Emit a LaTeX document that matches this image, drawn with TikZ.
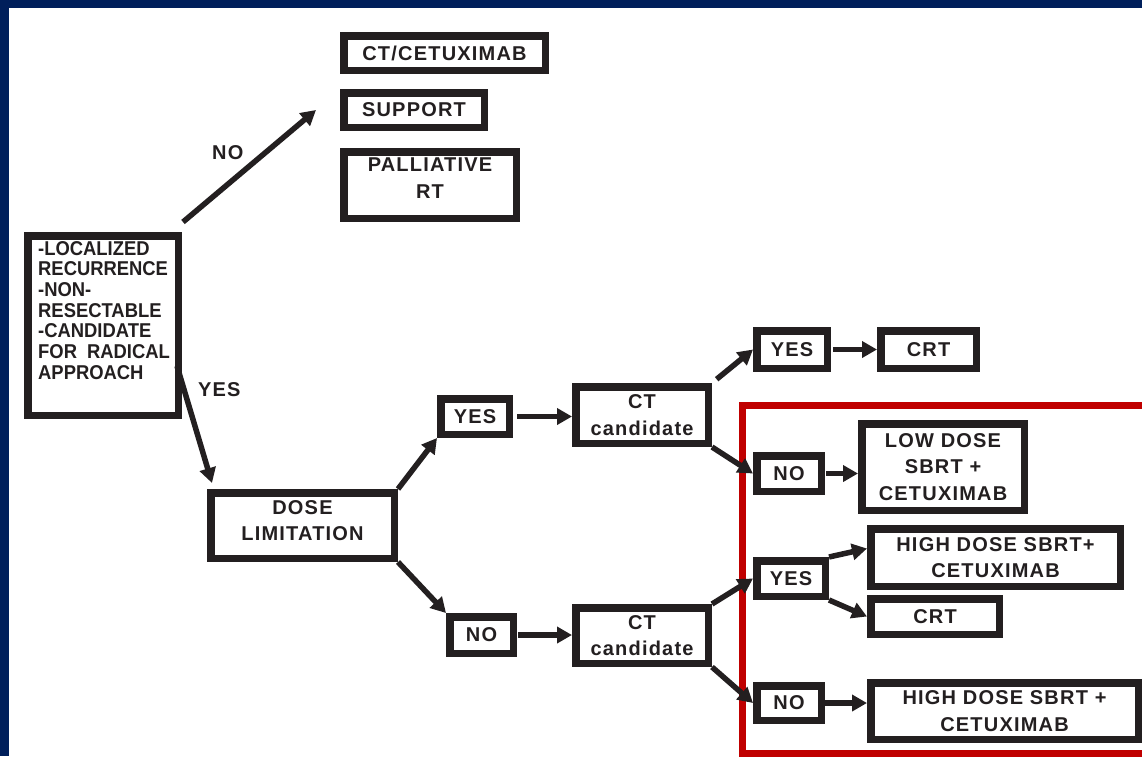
\documentclass[tikz,border=0pt]{standalone}
\usepackage{fontspec}
\setmainfont{Liberation Sans}
\newfontfamily\boxfont[LetterSpace=6]{Liberation Sans}
\newfontfamily\leftfont[FakeStretch=0.92]{Liberation Sans}
\usetikzlibrary{arrows.meta,calc}

\definecolor{navy}{RGB}{0,31,91}
\definecolor{darkred}{RGB}{192,0,0}
\definecolor{ink}{RGB}{35,31,32}

\tikzset{
  box/.style={draw=ink, line width=7.5pt, fill=white, inner sep=0pt, align=center,
    text=ink, font=\boxfont\bfseries\fontsize{20}{26.5}\selectfont},
  arr/.style={draw=ink, line width=5.5pt, -{Triangle[length=15pt,width=16pt]}},
  lbl/.style={text=ink, font=\boxfont\bfseries\fontsize{20}{24}\selectfont},
}

\begin{document}
\begin{tikzpicture}[x=1pt,y=-1pt]

% Background frame
\fill[navy] (0,0) rectangle (1142,756);
\fill[white] (9,8) rectangle (1142,756);
\useasboundingbox (0,0) rectangle (1142,756);

% Red frame round the right part
\draw[darkred, line width=7pt] (1146,405) -- (742,405) -- (742,753) -- (1146,753);

% Define coordinates for the free arrow ends
\coordinate (nofrom) at (183,222);
\coordinate (noto) at (316,110);
\coordinate (yesfrom) at (177,366);
\coordinate (yesto) at (212,483);

% Boxes for the first decision
\node[box, minimum width=201.5pt, minimum height=34.5pt] (ctcet) at (444.5,53) {CT/CETUXIMAB};
\node[box, minimum width=140.5pt, minimum height=34.5pt] (support) at (414,110) {SUPPORT};
\node[box, minimum width=172.5pt, minimum height=66.5pt, text depth=14pt] (palliative) at (430,185) {PALLIATIVE\\RT};
\node[box, minimum width=150.5pt, minimum height=179.5pt] (start) at (103,325.5) {};
\node[anchor=north west, inner sep=0pt, align=left, text=ink,
  font=\leftfont\bfseries\fontsize{20}{20.7}\selectfont] (starttxt) at ($(start.north west)+(14,9)$)
  {-LOCALIZED\\RECURRENCE\\-NON-\\RESECTABLE\\-CANDIDATE\\FOR\enspace RADICAL\\APPROACH};
\node[box, minimum width=183.5pt, minimum height=65.5pt, text depth=10pt] (dose) at (302.5,525.5) {DOSE\\LIMITATION};

% Second level
\node[box, minimum width=68.5pt, minimum height=35.5pt] (yes1) at (475,416.5) {YES};
\node[box, minimum width=132.5pt, minimum height=56.5pt] (cand1) at (642,415) {CT\\candidate};
\node[box, minimum width=63.5pt, minimum height=36.5pt] (no1) at (481.5,635) {NO};
\node[box, minimum width=132.5pt, minimum height=55.5pt] (cand2) at (642,635.5) {CT\\candidate};

% Third level
\node[box, minimum width=70.5pt, minimum height=37.5pt] (yes2) at (792,349.5) {YES};
\node[box, minimum width=95.5pt, minimum height=37.5pt] (crt1) at (928.5,349.5) {CRT};
\node[box, minimum width=64.5pt, minimum height=35.5pt] (no2) at (789,473.5) {NO};
\node[box, minimum width=162.5pt, minimum height=86.5pt] (lowdose) at (943,467) {LOW DOSE\\SBRT +\\CETUXIMAB};
\node[box, minimum width=68.5pt, minimum height=35.5pt] (yes3) at (791,578.5) {YES};
\node[box, minimum width=249.5pt, minimum height=57.5pt] (high1) at (995.5,557.5) {HIGH DOSE SBRT+\\CETUXIMAB};
\node[box, minimum width=128.5pt, minimum height=35.5pt] (crt2) at (935,616.5) {CRT};
\node[box, minimum width=64.5pt, minimum height=34.5pt] (no3) at (789,703) {NO};
\node[box, minimum width=267.5pt, minimum height=56.5pt] (high2) at (1004.5,711) {HIGH DOSE SBRT +\\CETUXIMAB};

% Arrows
\draw[arr] (nofrom) -- (noto) node[lbl, midway, above left] (nolbl) {NO};
\draw[arr] (yesfrom) -- (yesto) node[lbl, pos=0.2, right=8pt] (yeslbl) {YES};
\draw[arr] (dose.north east) -- (yes1.south west);
\draw[arr] (dose.south east) -- (no1.north west);
\draw[arr, shorten <=4pt] (yes1.east) -- (yes1.east -| cand1.west);
\draw[arr, shorten <=1pt] (no1.east) -- (no1.east -| cand2.west);
\draw[arr, shorten <=6pt] (cand1.north east) -- (yes2.west);
\draw[arr] (cand1.south east) -- (no2.west);
\draw[arr, shorten <=2pt] (yes2.east) -- (crt1.west);
\draw[arr, shorten <=1pt] (no2.east) -- (no2.east -| lowdose.west);
\draw[arr] (cand2.north east) -- (yes3.west);
\draw[arr] (cand2.south east) -- (no3.west);
\draw[arr] (yes3.north east) -- (high1.176);
\draw[arr] (yes3.south east) -- (crt2.west);
\draw[arr] (no3.east) -- (no3.east -| high2.west);

\end{tikzpicture}
\end{document}
